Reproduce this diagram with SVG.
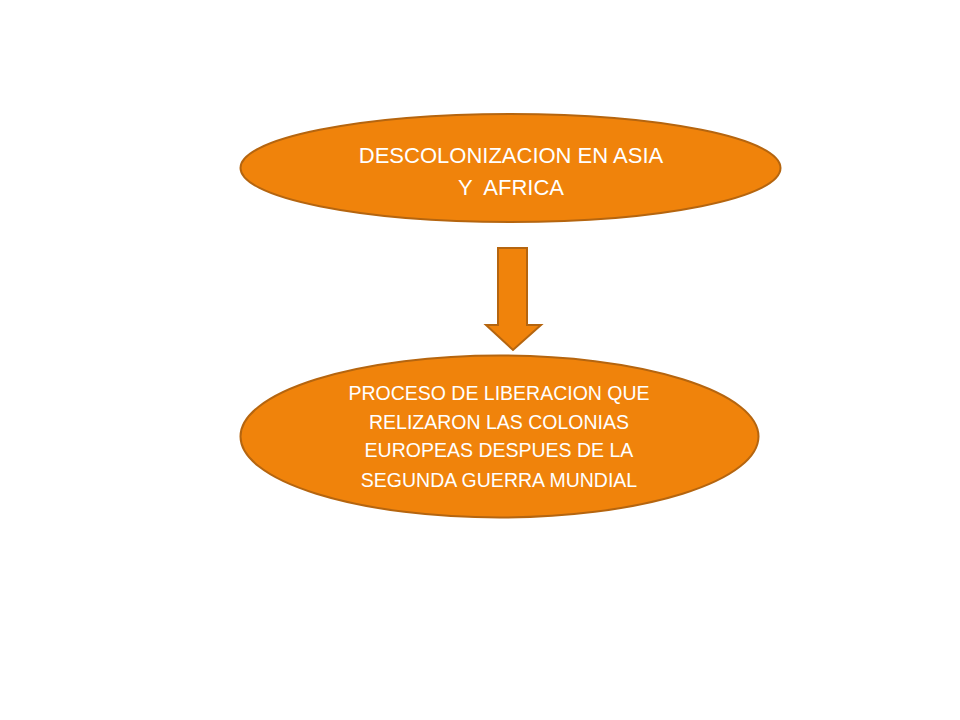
<svg xmlns="http://www.w3.org/2000/svg" width="960" height="720" viewBox="0 0 960 720">
<style>
.shape{fill:#F0830B;stroke:#B5650F;stroke-width:2}
.lbl{font-family:"Liberation Sans",Arial,sans-serif;fill:#FFFFFF;text-anchor:middle;white-space:pre}
.big{font-size:22px}
.small{font-size:19.5px}
</style>
<rect width="960" height="720" fill="#FFFFFF"/>
<g id="node-descolonizacion">
<ellipse class="shape" cx="510.5" cy="168" rx="270" ry="54"/>
<text class="lbl big" x="511" y="163">DESCOLONIZACION EN ASIA</text>
<text class="lbl big" x="511" y="195" xml:space="preserve">Y  AFRICA</text>
</g>
<g id="connectors">
<path class="shape" d="M498,248 H527 V325 H541 L513,350 L486,325 H498 Z"/>
</g>
<g id="node-proceso">
<ellipse class="shape" cx="499.5" cy="436.5" rx="259" ry="81"/>
<text class="lbl small" x="499" y="400">PROCESO DE LIBERACION QUE</text>
<text class="lbl small" x="499" y="429">RELIZARON LAS COLONIAS</text>
<text class="lbl small" x="499" y="457">EUROPEAS DESPUES DE LA</text>
<text class="lbl small" x="499" y="487">SEGUNDA GUERRA MUNDIAL</text>
</g>
</svg>
